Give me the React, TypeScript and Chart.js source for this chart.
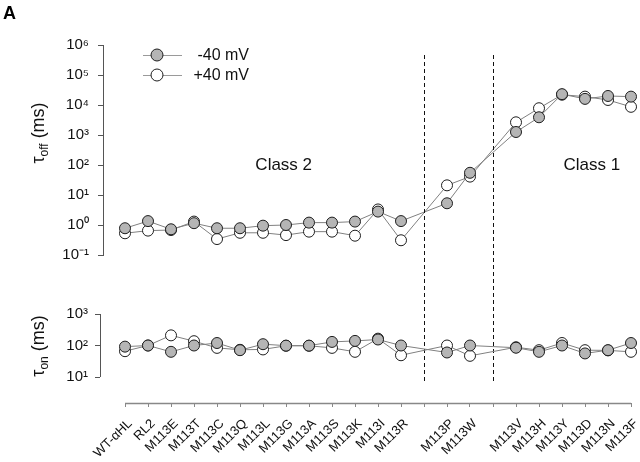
import React, { useEffect, useRef } from "react";
import { Chart, registerables } from "chart.js";
Chart.register(...registerables);

const FONT = "'Liberation Sans', Arial, Helvetica, sans-serif";

const categories = [
  "WT-αHL", "RL2", "M113E", "M113T", "M113C", "M113Q", "M113L", "M113G", "M113A",
  "M113S", "M113K", "M113I", "M113R", "", "M113P", "M113W", "", "M113V", "M113H",
  "M113Y", "M113D", "M113N", "M113F",
];
const seriesNames = ["-40 mV", "+40 mV"];

const tauOffMinus40 = [0.78, 1.35, 0.72, 1.15, 0.78, 0.78, 0.95, 1.0, 1.2, 1.2, 1.3, 2.8, 1.35, null, 5.3, 55, null, 1260, 3900, 23000, 16000, 20000, 19000];
const tauOffPlus40 = [0.53, 0.65, 0.68, 1.3, 0.34, 0.55, 0.55, 0.46, 0.6, 0.6, 0.44, 3.3, 0.31, null, 21, 41, null, 2650, 7800, 22000, 19000, 14700, 8700];
const tauOnMinus40 = [92, 100, 63, 100, 120, 71, 110, 99, 99, 130, 140, 155, 100, null, 60, 100, null, 85, 63, 100, 56, 71, 120];
const tauOnPlus40 = [66, 100, 210, 137, 84, 73, 75, 98, 98, 84, 63, 165, 49, null, 100, 47, null, 88, 71, 120, 71, 70, 63];

const tauOffTicks = [0.1, 1, 10, 100, 1000, 10000, 100000, 1000000];
const tauOnTicks = [10, 100, 1000];
const dividerSlots = [13, 16];
const classLabels = ["Class 2", "Class 1"];

const SUP: Record<string, string> = { "0": "⁰", "1": "¹", "2": "²", "3": "³", "4": "⁴", "5": "⁵", "6": "⁶", "7": "⁷", "8": "⁸", "9": "⁹", "-": "⁻" };
const fmtPow = (v: number) => "10" + String(Math.round(Math.log10(v))).split("").map((c) => SUP[c]).join("");

const toPts = (arr: (number | null)[]) => arr.map((v, i) => ({ x: i, y: v }));

const styles = [
  { borderColor: "#808080", pointBackgroundColor: "#b5b5b5" },
  { borderColor: "#808080", pointBackgroundColor: "#ffffff" },
];
const makeDs = (label: string, arr: (number | null)[], i: number) => ({
  label,
  data: toPts(arr),
  borderColor: styles[i].borderColor,
  borderWidth: 1,
  pointRadius: 5.5,
  pointBackgroundColor: styles[i].pointBackgroundColor,
  pointBorderColor: "#1e1e1e",
  pointBorderWidth: 1,
  fill: false,
  tension: 0,
  spanGaps: true,
  clip: false,
});

function drawTitle(ctx: CanvasRenderingContext2D, cx: number, cy: number, sub: string) {
  ctx.save();
  ctx.translate(cx, cy);
  ctx.rotate(-Math.PI / 2);
  ctx.fillStyle = "#111";
  ctx.textBaseline = "alphabetic";
  ctx.textAlign = "left";
  const big = `18px ${FONT}`;
  const small = `12px ${FONT}`;
  ctx.font = big;
  const w1 = ctx.measureText("τ").width;
  const w3 = ctx.measureText(" (ms)").width;
  ctx.font = small;
  const w2 = ctx.measureText(sub).width;
  const total = w1 + w2 + w3;
  let xx = -total / 2;
  const base = 6;
  ctx.font = big;
  ctx.fillText("τ", xx, base);
  xx += w1;
  ctx.font = small;
  ctx.fillText(sub, xx, base + 4);
  xx += w2;
  ctx.font = big;
  ctx.fillText(" (ms)", xx, base);
  ctx.restore();
}

const topDecor = {
  id: "topDecor",
  afterDraw(chart: any) {
    const { ctx, chartArea, scales } = chart;
    const x = scales.x;
    const y = scales.y;
    ctx.save();
    ctx.strokeStyle = "#111";
    ctx.lineWidth = 1;
    ctx.setLineDash([4, 3]);
    dividerSlots.forEach((s) => {
      const px = Math.round(x.getPixelForValue(s)) + 0.5;
      ctx.beginPath();
      ctx.moveTo(px, chartArea.top + 10);
      ctx.lineTo(px, 382);
      ctx.stroke();
    });
    ctx.setLineDash([]);
    ctx.fillStyle = "#111";
    ctx.font = `17px ${FONT}`;
    ctx.textAlign = "center";
    ctx.textBaseline = "middle";
    ctx.fillText(classLabels[0], x.getPixelForValue(6.9), y.getPixelForValue(100));
    ctx.fillText(classLabels[1], x.getPixelForValue(20.3), y.getPixelForValue(100));
    chart.data.datasets.forEach((ds: any, i: number) => {
      const ly = 55 + 20 * i;
      ctx.strokeStyle = "#9a9a9a";
      ctx.lineWidth = 1;
      ctx.beginPath();
      ctx.moveTo(143, ly + 0.5);
      ctx.lineTo(182, ly + 0.5);
      ctx.stroke();
      ctx.beginPath();
      ctx.arc(157, ly, 6, 0, Math.PI * 2);
      ctx.fillStyle = ds.pointBackgroundColor;
      ctx.fill();
      ctx.strokeStyle = ds.pointBorderColor;
      ctx.stroke();
      ctx.fillStyle = "#111";
      ctx.font = `16px ${FONT}`;
      ctx.textAlign = "right";
      ctx.textBaseline = "middle";
      ctx.fillText(ds.label, 249, ly + 1);
    });
    ctx.font = `bold 18px ${FONT}`;
    ctx.textAlign = "left";
    ctx.textBaseline = "alphabetic";
    ctx.fillStyle = "#000";
    ctx.fillText("A", 3, 19);
    ctx.restore();
    drawTitle(ctx, 38, 133, "off");
  },
};

const botDecor = {
  id: "botDecor",
  afterDraw(chart: any) {
    const { ctx, chartArea, scales } = chart;
    const x = scales.x;
    const y = scales.y;
    ctx.save();
    ctx.strokeStyle = "#555";
    ctx.lineWidth = 1;
    const ax = chartArea.left + 0.5;
    ctx.beginPath();
    ctx.moveTo(ax, y.getPixelForValue(tauOnTicks[tauOnTicks.length - 1]));
    ctx.lineTo(ax, y.getPixelForValue(tauOnTicks[0]));
    ctx.stroke();
    ctx.strokeStyle = "#888";
    ctx.lineWidth = 1.5;
    const by = chartArea.bottom + 0.5;
    ctx.beginPath();
    ctx.moveTo(x.getPixelForValue(0), by);
    ctx.lineTo(x.getPixelForValue(categories.length - 1), by);
    ctx.stroke();
    ctx.restore();
    drawTitle(ctx, 38, 346, "on");
  },
};

const yTickOpts = {
  callback: (v: any) => fmtPow(Number(v)),
  font: { family: FONT, size: 15 },
  color: "#111",
  padding: 9,
};

function topConfig(): any {
  return {
    type: "line",
    data: {
      datasets: [makeDs(seriesNames[0], tauOffMinus40, 0), makeDs(seriesNames[1], tauOffPlus40, 1)],
    },
    options: {
      responsive: false,
      animation: false,
      layout: { padding: { left: 0, right: 9, top: 45, bottom: 207 } },
      plugins: { legend: { display: false }, tooltip: { enabled: false } },
      scales: {
        x: { type: "linear", display: false, min: -22 / 23, max: categories.length - 1 },
        y: {
          type: "logarithmic",
          position: "left",
          min: tauOffTicks[0],
          max: tauOffTicks[tauOffTicks.length - 1],
          afterBuildTicks: (s: any) => {
            s.ticks = tauOffTicks.map((v) => ({ value: v }));
          },
          afterFit: (s: any) => {
            s.width = 103;
            s.paddingTop = 0;
            s.paddingBottom = 0;
          },
          ticks: yTickOpts,
          grid: { drawOnChartArea: false, drawTicks: true, tickLength: 5, color: "#555" },
          border: { display: true, color: "#555", width: 1 },
        },
      },
    },
    plugins: [topDecor],
  };
}

function botConfig(): any {
  return {
    type: "line",
    data: {
      datasets: [makeDs(seriesNames[0], tauOnMinus40, 0), makeDs(seriesNames[1], tauOnPlus40, 1)],
    },
    options: {
      responsive: false,
      animation: false,
      layout: { padding: { left: 0, right: 9, top: 314, bottom: 0 } },
      plugins: { legend: { display: false }, tooltip: { enabled: false } },
      scales: {
        x: {
          type: "linear",
          position: "bottom",
          min: -25 / 23,
          max: categories.length - 1,
          afterBuildTicks: (s: any) => {
            s.ticks = categories.map((_, i) => ({ value: i }));
          },
          afterFit: (s: any) => {
            s.height = 59;
            s.paddingLeft = 0;
            s.paddingRight = 0;
          },
          ticks: {
            callback: (v: any) => categories[Math.round(Number(v))] ?? "",
            autoSkip: false,
            minRotation: 45,
            maxRotation: 45,
            font: { family: FONT, size: 13 },
            color: "#111",
            padding: 9,
            labelOffset: 5,
          },
          grid: { drawOnChartArea: false, drawTicks: true, tickLength: 4, color: "#888" },
          border: { display: false },
        },
        y: {
          type: "logarithmic",
          position: "left",
          min: Math.pow(10, 1 - 26 / 31.5),
          max: tauOnTicks[tauOnTicks.length - 1],
          afterBuildTicks: (s: any) => {
            s.ticks = tauOnTicks.map((v) => ({ value: v }));
          },
          afterFit: (s: any) => {
            s.width = 100;
            s.paddingTop = 0;
            s.paddingBottom = 0;
          },
          ticks: { ...yTickOpts, padding: 7 },
          grid: { drawOnChartArea: false, drawTicks: true, tickLength: 5, color: "#555" },
          border: { display: false },
        },
      },
    },
    plugins: [botDecor],
  };
}

export default function App() {
  const topRef = useRef<HTMLCanvasElement>(null);
  const botRef = useRef<HTMLCanvasElement>(null);
  useEffect(() => {
    const c1 = new Chart(topRef.current as HTMLCanvasElement, topConfig());
    const c2 = new Chart(botRef.current as HTMLCanvasElement, botConfig());
    return () => {
      c1.destroy();
      c2.destroy();
    };
  }, []);
  return (
    <div style={{ position: "fixed", left: 0, top: 0, width: 640, height: 462, background: "#fff" }}>
      <canvas ref={topRef} width={640} height={462} style={{ position: "absolute", left: 0, top: 0 }} />
      <canvas ref={botRef} width={640} height={462} style={{ position: "absolute", left: 0, top: 0 }} />
    </div>
  );
}
